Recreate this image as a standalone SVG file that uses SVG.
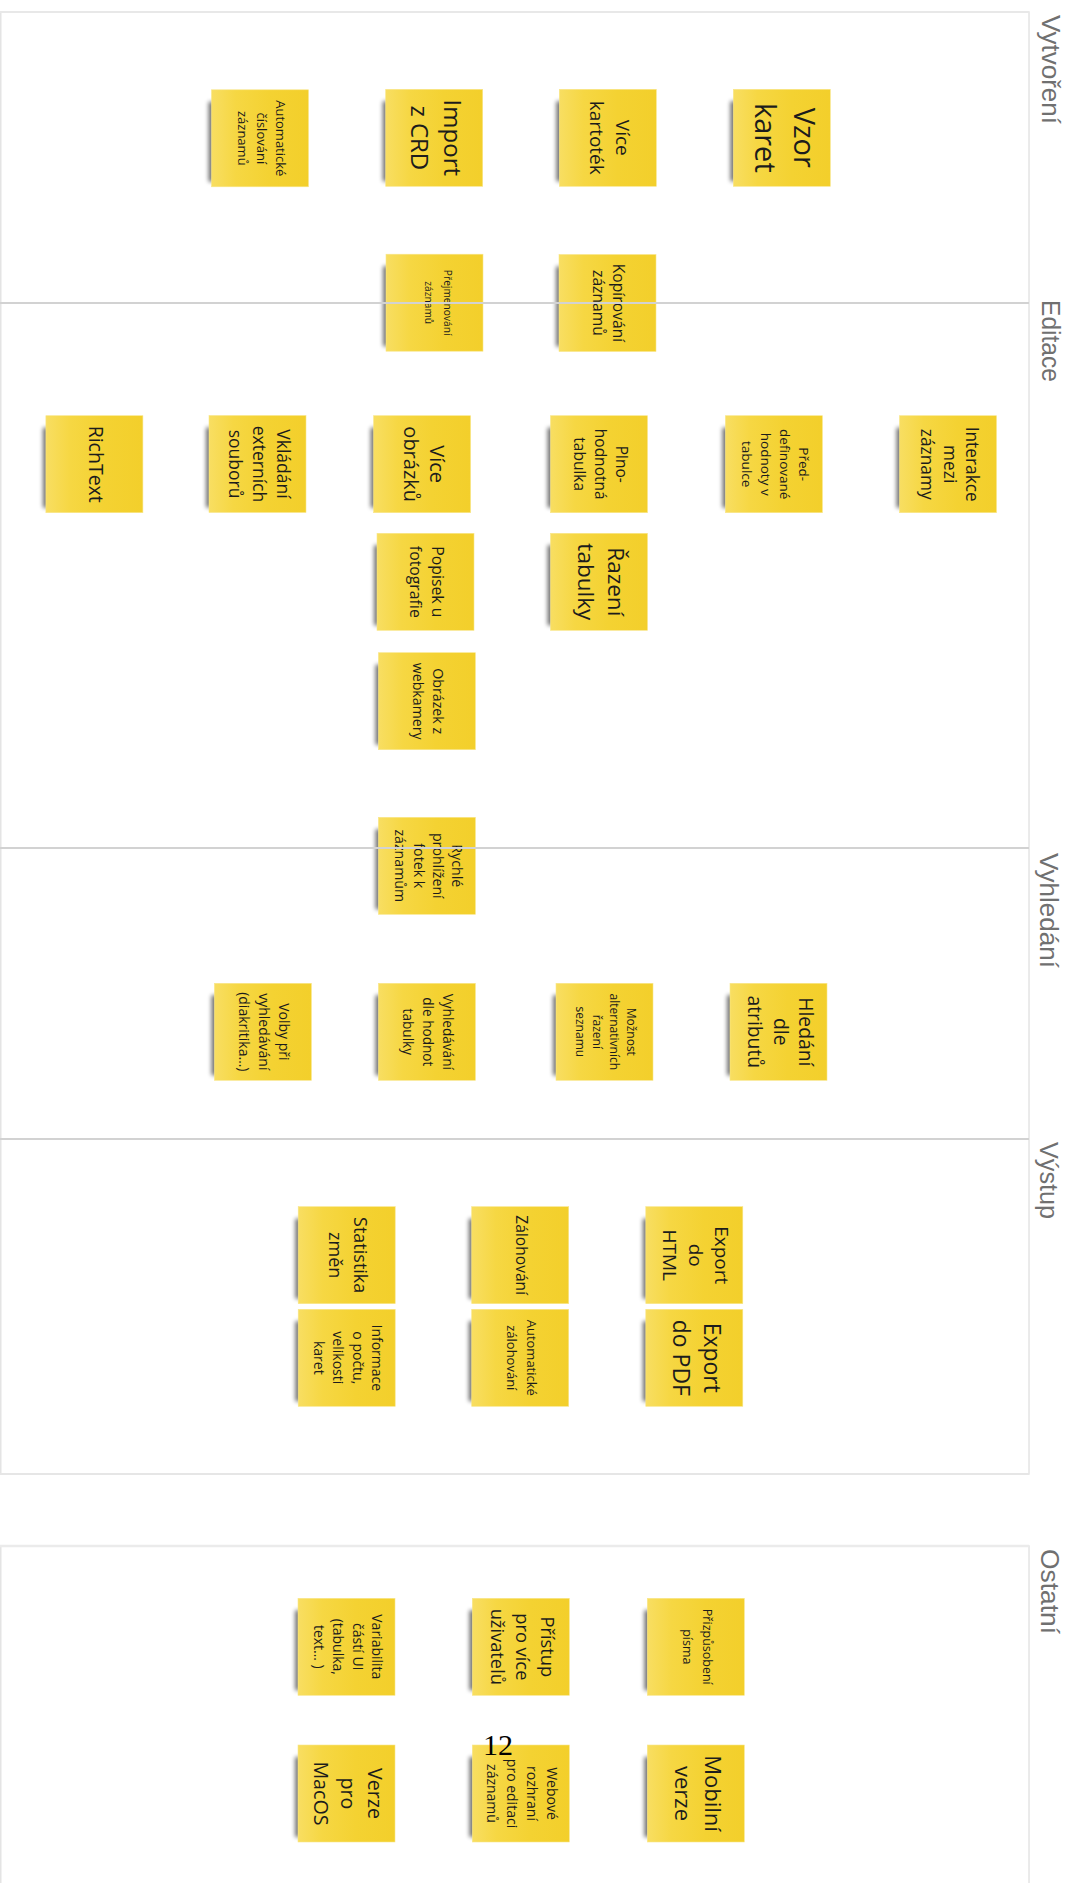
<svg xmlns="http://www.w3.org/2000/svg" width="1075" height="1883" viewBox="0 0 1075 1883">
<defs>
<linearGradient id="paper" x1="0" y1="0" x2="1" y2="0">
<stop offset="0" stop-color="#f8de62"/>
<stop offset="0.25" stop-color="#f6d743"/>
<stop offset="0.6" stop-color="#f4d232"/>
<stop offset="1" stop-color="#f3cf2b"/>
</linearGradient>
<filter id="blur" x="-1" y="-0.2" width="3" height="1.4"><feGaussianBlur stdDeviation="2"/></filter>
</defs>
<style>
.frame{fill:none;stroke:#e4e4e4;stroke-width:1.5}
.divider{stroke:#d2d2d2;stroke-width:2}
.sh{fill:#000;opacity:.55;filter:url(#blur)}
.paper{fill:url(#paper);stroke:#f8e68a;stroke-width:0.6}
.nt{font-family:"Open Sans","Noto Sans",sans-serif;fill:#1c1c1c;text-anchor:middle}
.lbl{font-family:"Liberation Sans","DejaVu Sans",sans-serif;font-size:26px;fill:#707070}
.num{font-family:"Liberation Serif",serif;font-size:30px;fill:#000}
</style>
<rect width="1075" height="1883" fill="#fff"/>

<g id="frames">
<rect class="frame" x="0.75" y="12" width="1028.25" height="1462"/>
<rect class="frame" x="0.75" y="1546" width="1028.25" height="360"/>
<line x1="0" y1="12" x2="1029" y2="12" stroke="#e8e8e8" stroke-width="2"/>
<line x1="0" y1="1546" x2="1029" y2="1546" stroke="#ebebeb" stroke-width="2.5"/>
<line x1="0" y1="1474" x2="1029" y2="1474" stroke="#e6e6e6" stroke-width="2"/>
</g>

<g id="labels">
<text class="lbl" transform="translate(1042,15) rotate(90)" textLength="109" lengthAdjust="spacingAndGlyphs">Vytvoření</text>
<text class="lbl" transform="translate(1042,300) rotate(90)" textLength="82" lengthAdjust="spacingAndGlyphs">Editace</text>
<text class="lbl" transform="translate(1040,853) rotate(90)" textLength="115" lengthAdjust="spacingAndGlyphs">Vyhledání</text>
<text class="lbl" transform="translate(1040,1142) rotate(90)" textLength="77" lengthAdjust="spacingAndGlyphs">Výstup</text>
<text class="lbl" transform="translate(1041,1549) rotate(90)" textLength="85" lengthAdjust="spacingAndGlyphs">Ostatní</text>
</g>

<g id="notes">
<g id="n-vzor-karet" transform="translate(733.3,89.3)"><rect class="sh" x="-3" y="12" width="8" height="80"/><rect class="paper" width="97" height="97"/><text class="nt" font-size="29" transform="translate(48.5,48.5) rotate(90)"><tspan x="0" y="-12">Vzor</tspan><tspan x="0" y="27">karet</tspan></text></g>
<g id="n-vice-kartotek" transform="translate(559.3,89.3)"><rect class="sh" x="-3" y="12" width="8" height="80"/><rect class="paper" width="97" height="97"/><text class="nt" font-size="19" transform="translate(48.5,48.5) rotate(90)"><tspan x="0" y="-8.1">Více</tspan><tspan x="0" y="17.9">kartoték</tspan></text></g>
<g id="n-import-crd" transform="translate(385.7,89.3)"><rect class="sh" x="-3" y="12" width="8" height="80"/><rect class="paper" width="97" height="97"/><text class="nt" font-size="24" transform="translate(48.5,48.5) rotate(90)"><tspan x="0" y="-10.3">Import</tspan><tspan x="0" y="22.7">z CRD</tspan></text></g>
<g id="n-automaticke-cislovani" transform="translate(211.5,89.8)"><rect class="sh" x="-3" y="12" width="8" height="80"/><rect class="paper" width="97" height="97"/><text class="nt" font-size="13" transform="translate(48.5,48.5) rotate(90)"><tspan x="0" y="-15.6">Automatické</tspan><tspan x="0" y="3.4">číslování</tspan><tspan x="0" y="22.4">záznamů</tspan></text></g>
<g id="n-kopirovani" transform="translate(559,254.5)"><rect class="sh" x="-3" y="12" width="8" height="80"/><rect class="paper" width="97" height="97"/><text class="nt" font-size="15.7" transform="translate(48.5,48.5) rotate(90)"><tspan x="0" y="-5.9">Kopírování</tspan><tspan x="0" y="14.1">záznamů</tspan></text></g>
<g id="n-prejmenovani" transform="translate(386,254.2)"><rect class="sh" x="-3" y="12" width="8" height="80"/><rect class="paper" width="97" height="97"/><text class="nt" font-size="10.2" transform="translate(48.5,48.5) rotate(90)"><tspan x="0" y="-9">Přejmenování</tspan><tspan x="0" y="9.5">záznamů</tspan></text></g>

<g id="n-interakce" transform="translate(899.5,415.7)"><rect class="sh" x="-3" y="12" width="8" height="80"/><rect class="paper" width="97" height="97"/><text class="nt" font-size="17.3" transform="translate(48.5,48.5) rotate(90)"><tspan x="0" y="-18.1">Interakce</tspan><tspan x="0" y="4.5">mezi</tspan><tspan x="0" y="27.1">záznamy</tspan></text></g>
<g id="n-preddefinovane" transform="translate(725.4,415.7)"><rect class="sh" x="-3" y="12" width="8" height="80"/><rect class="paper" width="97" height="97"/><text class="nt" font-size="13.5" transform="translate(48.5,48.5) rotate(90)"><tspan x="0" y="-25">Před-</tspan><tspan x="0" y="-6">definované</tspan><tspan x="0" y="13">hodnoty v</tspan><tspan x="0" y="32">tabulce</tspan></text></g>
<g id="n-plnohodnotna" transform="translate(550.5,415.7)"><rect class="sh" x="-3" y="12" width="8" height="80"/><rect class="paper" width="97" height="97"/><text class="nt" font-size="15.5" transform="translate(48.5,48.5) rotate(90)"><tspan x="0" y="-17">Plno-</tspan><tspan x="0" y="4">hodnotná</tspan><tspan x="0" y="25">tabulka</tspan></text></g>
<g id="n-vice-obrazku" transform="translate(373.6,415.7)"><rect class="sh" x="-3" y="12" width="8" height="80"/><rect class="paper" width="97" height="97"/><text class="nt" font-size="20" transform="translate(48.5,48.5) rotate(90)"><tspan x="0" y="-7.8">Více</tspan><tspan x="0" y="18.2">obrázků</tspan></text></g>
<g id="n-vkladani" transform="translate(209,415.5)"><rect class="sh" x="-3" y="12" width="8" height="80"/><rect class="paper" width="97" height="97"/><text class="nt" font-size="17.5" transform="translate(48.5,48.5) rotate(90)"><tspan x="0" y="-19.45">Vkládání</tspan><tspan x="0" y="4.55">externích</tspan><tspan x="0" y="28.55">souborů</tspan></text></g>
<g id="n-richtext" transform="translate(45.9,415.7)"><rect class="sh" x="-3" y="12" width="8" height="80"/><rect class="paper" width="97" height="97"/><text class="nt" font-size="19.5" transform="translate(48.5,48.5) rotate(90)"><tspan x="0" y="5.1">RichText</tspan></text></g>
<g id="n-razeni" transform="translate(550.5,533.3)"><rect class="sh" x="-3" y="12" width="8" height="80"/><rect class="paper" width="97" height="97"/><text class="nt" font-size="22.5" transform="translate(48.5,48.5) rotate(90)"><tspan x="0" y="-9.15">Řazení</tspan><tspan x="0" y="20.85">tabulky</tspan></text></g>
<g id="n-popisek" transform="translate(377,533.3)"><rect class="sh" x="-3" y="12" width="8" height="80"/><rect class="paper" width="97" height="97"/><text class="nt" font-size="15.8" transform="translate(48.5,48.5) rotate(90)"><tspan x="0" y="-6.9">Popisek u</tspan><tspan x="0" y="15.1">fotografie</tspan></text></g>
<g id="n-webkamera" transform="translate(378.4,652.7)"><rect class="sh" x="-3" y="12" width="8" height="80"/><rect class="paper" width="97" height="97"/><text class="nt" font-size="14.2" transform="translate(48.5,48.5) rotate(90)"><tspan x="0" y="-6.3">Obrázek z</tspan><tspan x="0" y="13.7">webkamery</tspan></text></g>
<g id="n-rychle" transform="translate(378.4,817.3)"><rect class="sh" x="-3" y="12" width="8" height="80"/><rect class="paper" width="97" height="97"/><text class="nt" font-size="14.2" transform="translate(48.5,48.5) rotate(90)"><tspan x="0" y="-24.8">Rychlé</tspan><tspan x="0" y="-5.8">prohlížení</tspan><tspan x="0" y="13.2">fotek k</tspan><tspan x="0" y="32.2">záznamům</tspan></text></g>

<g id="n-hledani" transform="translate(730,983.3)"><rect class="sh" x="-3" y="12" width="8" height="80"/><rect class="paper" width="97" height="97"/><text class="nt" font-size="19.3" transform="translate(48.5,48.5) rotate(90)"><tspan x="0" y="-20.5">Hledání</tspan><tspan x="0" y="5">dle</tspan><tspan x="0" y="30.5">atributů</tspan></text></g>
<g id="n-moznost" transform="translate(556,983.3)"><rect class="sh" x="-3" y="12" width="8" height="80"/><rect class="paper" width="97" height="97"/><text class="nt" font-size="12" transform="translate(48.5,48.5) rotate(90)"><tspan x="0" y="-22.4">Možnost</tspan><tspan x="0" y="-5.4">alternativních</tspan><tspan x="0" y="11.6">řazení</tspan><tspan x="0" y="28.6">seznamu</tspan></text></g>
<g id="n-vyhledavani-hodnot" transform="translate(378.4,983.3)"><rect class="sh" x="-3" y="12" width="8" height="80"/><rect class="paper" width="97" height="97"/><text class="nt" font-size="13.6" transform="translate(48.5,48.5) rotate(90)"><tspan x="0" y="-16.5">Vyhledávání</tspan><tspan x="0" y="3.5">dle hodnot</tspan><tspan x="0" y="23.5">tabulky</tspan></text></g>
<g id="n-volby" transform="translate(214.4,983.3)"><rect class="sh" x="-3" y="12" width="8" height="80"/><rect class="paper" width="97" height="97"/><text class="nt" font-size="14" transform="translate(48.5,48.5) rotate(90)"><tspan x="0" y="-16.4">Volby při</tspan><tspan x="0" y="3.6">vyhledávání</tspan><tspan x="0" y="23.6">(diakritika…)</tspan></text></g>

<g id="n-export-html" transform="translate(645.8,1206.7)"><rect class="sh" x="-3" y="12" width="8" height="80"/><rect class="paper" width="97" height="97"/><text class="nt" font-size="19" transform="translate(48.5,48.5) rotate(90)"><tspan x="0" y="-21.1">Export</tspan><tspan x="0" y="4.9">do</tspan><tspan x="0" y="30.9">HTML</tspan></text></g>
<g id="n-zalohovani" transform="translate(471.7,1206.7)"><rect class="sh" x="-3" y="12" width="8" height="80"/><rect class="paper" width="97" height="97"/><text class="nt" font-size="15.6" transform="translate(48.5,48.5) rotate(90)"><tspan x="0" y="4.1">Zálohování</tspan></text></g>
<g id="n-statistika" transform="translate(298.2,1206.7)"><rect class="sh" x="-3" y="12" width="8" height="80"/><rect class="paper" width="97" height="97"/><text class="nt" font-size="18" transform="translate(48.5,48.5) rotate(90)"><tspan x="0" y="-7.8">Statistika</tspan><tspan x="0" y="17.2">změn</tspan></text></g>
<g id="n-export-pdf" transform="translate(645.8,1309.3)"><rect class="sh" x="-3" y="12" width="8" height="80"/><rect class="paper" width="97" height="97"/><text class="nt" font-size="23" transform="translate(48.5,48.5) rotate(90)"><tspan x="0" y="-9.5">Export</tspan><tspan x="0" y="21.5">do PDF</tspan></text></g>
<g id="n-auto-zalohovani" transform="translate(471.7,1309.3)"><rect class="sh" x="-3" y="12" width="8" height="80"/><rect class="paper" width="97" height="97"/><text class="nt" font-size="13" transform="translate(48.5,48.5) rotate(90)"><tspan x="0" y="-6.6">Automatické</tspan><tspan x="0" y="13.4">zálohování</tspan></text></g>
<g id="n-informace" transform="translate(298.2,1309.3)"><rect class="sh" x="-3" y="12" width="8" height="80"/><rect class="paper" width="97" height="97"/><text class="nt" font-size="14" transform="translate(48.5,48.5) rotate(90)"><tspan x="0" y="-25.65">Informace</tspan><tspan x="0" y="-6.15">o počtu,</tspan><tspan x="0" y="13.35">velikosti</tspan><tspan x="0" y="32.85">karet</tspan></text></g>

<g id="n-prizpusobeni" transform="translate(647.3,1598.3)"><rect class="sh" x="-3" y="12" width="8" height="80"/><rect class="paper" width="97" height="97"/><text class="nt" font-size="12.5" transform="translate(48.5,48.5) rotate(90)"><tspan x="0" y="-6.75">Přizpůsobení</tspan><tspan x="0" y="13.25">písma</tspan></text></g>
<g id="n-pristup" transform="translate(472.3,1598.3)"><rect class="sh" x="-3" y="12" width="8" height="80"/><rect class="paper" width="97" height="97"/><text class="nt" font-size="18.3" transform="translate(48.5,48.5) rotate(90)"><tspan x="0" y="-20.2">Přístup</tspan><tspan x="0" y="4.8">pro více</tspan><tspan x="0" y="29.8">uživatelů</tspan></text></g>
<g id="n-variabilita" transform="translate(298,1598.3)"><rect class="sh" x="-3" y="12" width="8" height="80"/><rect class="paper" width="97" height="97"/><text class="nt" font-size="14" transform="translate(48.5,48.5) rotate(90)"><tspan x="0" y="-25.65">Variabilita</tspan><tspan x="0" y="-6.15">částí UI</tspan><tspan x="0" y="13.35">(tabulka,</tspan><tspan x="0" y="32.85">text… )</tspan></text></g>
<g id="n-mobilni" transform="translate(647.3,1745)"><rect class="sh" x="-3" y="12" width="8" height="80"/><rect class="paper" width="97" height="97"/><text class="nt" font-size="22" transform="translate(48.5,48.5) rotate(90)"><tspan x="0" y="-9.3">Mobilní</tspan><tspan x="0" y="20.7">verze</tspan></text></g>
<g id="n-webove" transform="translate(472.3,1745)"><rect class="sh" x="-3" y="12" width="8" height="80"/><rect class="paper" width="97" height="97"/><text class="nt" font-size="14" transform="translate(48.5,48.5) rotate(90)"><tspan x="0" y="-26.4">Webové</tspan><tspan x="0" y="-6.4">rozhraní</tspan><tspan x="0" y="13.6">pro editaci</tspan><tspan x="0" y="33.6">záznamů</tspan></text></g>
<g id="n-macos" transform="translate(298,1745)"><rect class="sh" x="-3" y="12" width="8" height="80"/><rect class="paper" width="97" height="97"/><text class="nt" font-size="19.7" transform="translate(48.5,48.5) rotate(90)"><tspan x="0" y="-21.9">Verze</tspan><tspan x="0" y="5.1">pro</tspan><tspan x="0" y="32.1">MacOS</tspan></text></g>
</g>

<g id="connectors">
<line class="divider" x1="0" y1="303" x2="1029" y2="303"/>
<line class="divider" x1="0" y1="848" x2="1029" y2="848"/>
<line class="divider" x1="0" y1="1139" x2="1029" y2="1139"/>
</g>

<g id="page-number">
<text class="num" x="483" y="1755">12</text>
</g>
</svg>
